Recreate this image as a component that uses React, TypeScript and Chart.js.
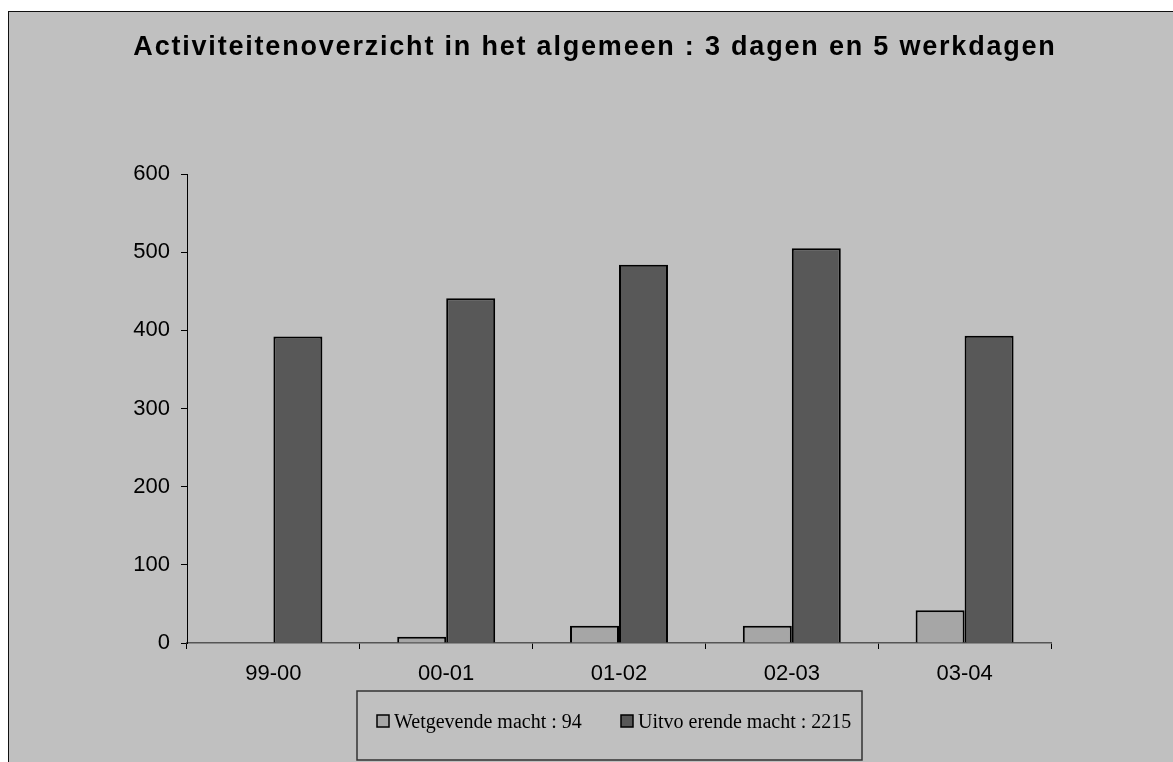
import React, { useEffect, useRef } from "react";
import { Chart, registerables } from "chart.js";

Chart.register(...registerables);

const categories = ["99-00", "00-01", "01-02", "02-03", "03-04"];
const wetgevend = [0, 8, 22, 22, 42];
const uitvoerend = [392, 441, 484, 505, 393];
const seriesLabels = ["Wetgevende macht : 94", "Uitvo erende macht : 2215"];
const yTicks = [0, 100, 200, 300, 400, 500, 600];
const titleText = "Activiteitenoverzicht in het algemeen : 3 dagen en 5 werkdagen";

const LIGHT = "#a6a6a6";
const DARK = "#585858";

const titlePlugin = {
  id: "customTitle",
  afterDraw(chart: any) {
    const ctx = chart.ctx;
    ctx.save();
    ctx.font = "bold 27px 'Liberation Sans', Arial, sans-serif";
    (ctx as any).letterSpacing = "1.8px";
    ctx.fillStyle = "#000";
    ctx.textBaseline = "alphabetic";
    ctx.textAlign = "left";
    const w = ctx.measureText(titleText).width;
    ctx.fillText(titleText, 586 - w / 2, 43);
    ctx.restore();
  },
};

const legendPlugin = {
  id: "customLegend",
  afterDraw(chart: any) {
    const ctx = chart.ctx;
    const bx = 348, by = 679, bw = 505, bh = 69;
    ctx.save();
    ctx.strokeStyle = "#333";
    ctx.lineWidth = 1.5;
    ctx.strokeRect(bx, by, bw, bh);
    const starts = [bx + 20, bx + 264];
    ctx.font = "20px 'Liberation Serif', 'Times New Roman', serif";
    ctx.textBaseline = "alphabetic";
    chart.data.datasets.forEach((ds: any, i: number) => {
      const sx = starts[i];
      ctx.fillStyle = ds.backgroundColor;
      ctx.fillRect(sx, by + 24, 12, 12);
      ctx.strokeStyle = "#000";
      ctx.lineWidth = 1.5;
      ctx.strokeRect(sx, by + 24, 12, 12);
      ctx.fillStyle = "#000";
      ctx.fillText(ds.label, sx + 17, by + 36.5);
    });
    ctx.restore();
  },
};

export default function App() {
  const ref = useRef<HTMLCanvasElement | null>(null);
  useEffect(() => {
    if (!ref.current) return;
    const chart = new Chart(ref.current, {
      type: "bar",
      data: {
        labels: categories,
        datasets: [
          {
            label: seriesLabels[0],
            data: wetgevend,
            backgroundColor: LIGHT,
            borderColor: "#000",
            borderWidth: 2,
            categoryPercentage: 0.567,
            barPercentage: 1,
          },
          {
            label: seriesLabels[1],
            data: uitvoerend,
            backgroundColor: DARK,
            borderColor: "#000",
            borderWidth: 2,
            categoryPercentage: 0.567,
            barPercentage: 1,
          },
        ],
      },
      options: {
        responsive: false,
        animation: false,
        layout: { padding: { left: 118, right: 138, top: 162, bottom: 79 } },
        plugins: {
          legend: { display: false },
          title: { display: false },
          tooltip: { enabled: false },
        },
        scales: {
          x: {
            afterFit: (s: any) => {
              s.height = 50;
            },
            grid: {
              display: true,
              drawOnChartArea: false,
              drawTicks: true,
              tickLength: 6,
              color: "#000",
              offset: true,
            },
            border: { display: true, color: "#555", width: 1.5 },
            ticks: {
              color: "#000",
              padding: 12,
              font: { family: "'Liberation Sans', Arial, sans-serif", size: 22 },
            },
          },
          y: {
            min: yTicks[0],
            max: yTicks[yTicks.length - 1],
            afterFit: (s: any) => {
              s.width = 60;
            },
            afterBuildTicks: (s: any) => {
              s.ticks = yTicks.map((v) => ({ value: v }));
            },
            grid: {
              display: true,
              drawOnChartArea: false,
              drawTicks: true,
              tickLength: 6,
              color: "#000",
            },
            border: { display: true, color: "#000", width: 1 },
            ticks: {
              color: "#000",
              padding: 11,
              font: { family: "'Liberation Sans', Arial, sans-serif", size: 22 },
            },
          },
        },
      },
      plugins: [titlePlugin, legendPlugin],
    });
    return () => chart.destroy();
  }, []);

  return (
    <div
      style={{
        position: "fixed",
        left: 0,
        top: 0,
        width: "100vw",
        height: "100vh",
        overflow: "hidden",
        background: "#fff",
      }}
    >
      <div
        style={{
          position: "absolute",
          left: 8,
          top: 11,
          width: 1180,
          height: 780,
          border: "1px solid #111",
          background: "#c0c0c0",
        }}
      >
        <canvas ref={ref} width={1180} height={760} style={{ display: "block" }} />
      </div>
    </div>
  );
}
